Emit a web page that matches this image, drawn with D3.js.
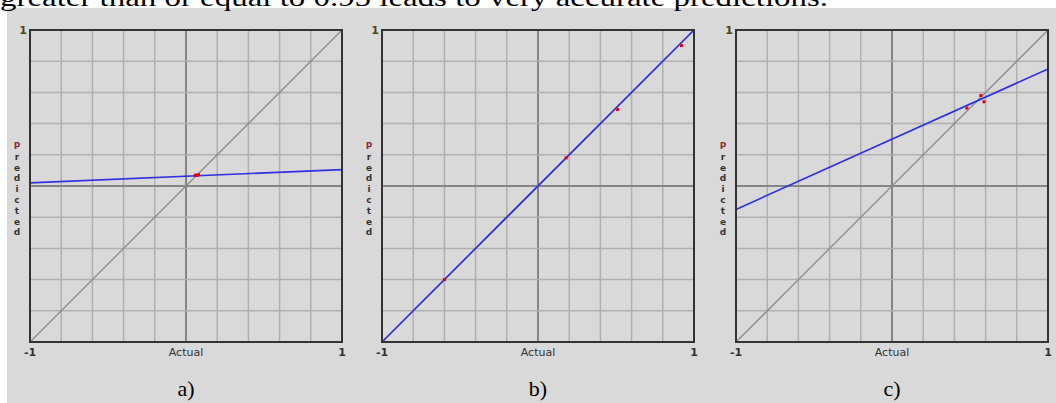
<!DOCTYPE html>
<html>
<head>
<meta charset="utf-8">
<script src="https://cdn.jsdelivr.net/npm/d3@7"></script>
<style>
  body { margin: 0; background: #fff; }
  svg { display: block; }
</style>
</head>
<body>
<svg id="chart" width="1056" height="403"></svg>
<script>
// data
var panelNames = ["a)", "b)", "c)"];
var fitA = [[-1, 0.02], [1, 0.105]];
var fitB = [[-1, -1], [1, 1]];
var fitC = [[-1, -0.15], [1, 0.75]];
var pointsA = [[0.06, 0.07], [0.08, 0.072], [0.07, 0.068]];
var pointsB = [[-0.6, -0.6], [0.18, 0.18], [0.51, 0.49], [0.92, 0.9]];
var pointsC = [[0.48, 0.5], [0.57, 0.58], [0.59, 0.54]];
var gridTicks = d3.range(-1, 1.0001, 0.2);
var caption = "greater than or equal to 0.95 leads to very accurate predictions.";

window.onload = function () {
  var fits = [fitA, fitB, fitC];
  var points = [pointsA, pointsB, pointsC];

  var svg = d3.select("#chart");

  svg.append("rect")
     .attr("x", 7).attr("y", 8)
     .attr("width", 1049).attr("height", 395)
     .attr("fill", "#d9d9d9");

  // sentence from the page above, cut off by the crop
  svg.append("text")
     .attr("x", 0).attr("y", 6)
     .attr("textLength", 828)
     .attr("lengthAdjust", "spacingAndGlyphs")
     .style("font", "25px 'Liberation Serif', serif")
     .style("fill", "#000")
     .text(caption);

  var lefts = [30, 382, 736];
  var size = 312;
  var plotTop = 30;

  panelNames.forEach(function(name, i) {
    var g = svg.append("g")
        .attr("transform", "translate(" + lefts[i] + "," + plotTop + ")");

    var x = d3.scaleLinear().domain([-1, 1]).range([0, size]);
    var y = d3.scaleLinear().domain([-1, 1]).range([size, 0]);

    var isZero = function(d) { return Math.abs(d) < 1e-6; };

    // grid
    g.selectAll(".gx").data(gridTicks).enter().append("line")
        .attr("x1", function(d) { return x(d); })
        .attr("x2", function(d) { return x(d); })
        .attr("y1", 0).attr("y2", size)
        .attr("stroke", function(d) { return isZero(d) ? "#858585" : "#b0b0b0"; })
        .attr("stroke-width", function(d) { return isZero(d) ? 2 : 1.5; });
    g.selectAll(".gy").data(gridTicks).enter().append("line")
        .attr("y1", function(d) { return y(d); })
        .attr("y2", function(d) { return y(d); })
        .attr("x1", 0).attr("x2", size)
        .attr("stroke", function(d) { return isZero(d) ? "#858585" : "#b0b0b0"; })
        .attr("stroke-width", function(d) { return isZero(d) ? 2 : 1.5; });

    // diagonal
    g.append("line")
        .attr("x1", x(-1)).attr("y1", y(-1))
        .attr("x2", x(1)).attr("y2", y(1))
        .attr("stroke", "#8c8c8c")
        .attr("stroke-width", 1.3);

    // fit line
    g.append("path")
        .datum(fits[i])
        .attr("d", d3.line().x(function(d) { return x(d[0]); }).y(function(d) { return y(d[1]); }))
        .attr("stroke", "#3030e0")
        .attr("stroke-width", 1.6)
        .attr("fill", "none");

    // points
    g.selectAll(".pt").data(points[i]).enter().append("rect")
        .attr("x", function(d) { return x(d[0]) - 1.5; })
        .attr("y", function(d) { return y(d[1]) - 1.5; })
        .attr("width", 3).attr("height", 3)
        .attr("fill", "#e00010");

    // border
    g.append("rect")
        .attr("width", size).attr("height", size)
        .attr("fill", "none")
        .attr("stroke", "#333")
        .attr("stroke-width", 2);

    var lab = "11px 'DejaVu Sans', sans-serif";
    g.append("text")
        .attr("x", -3).attr("y", 4)
        .attr("text-anchor", "end")
        .style("font", "bold " + lab).style("fill", "#4e4420")
        .text("1");
    g.append("text")
        .attr("x", 0).attr("y", size + 14)
        .attr("text-anchor", "middle")
        .style("font", "bold " + lab).style("fill", "#333")
        .text("-1");
    g.append("text")
        .attr("x", size).attr("y", size + 14)
        .attr("text-anchor", "middle")
        .style("font", "bold " + lab).style("fill", "#333")
        .text("1");
    g.append("text")
        .attr("x", size / 2).attr("y", size + 14)
        .attr("text-anchor", "middle")
        .style("font", lab).style("fill", "#333")
        .text("Actual");

    // vertical stacked label
    g.selectAll(".vl").data("Predicted".split("")).enter().append("text")
        .attr("x", -13)
        .attr("y", function(d, j) { return 119 + j * 10.8; })
        .attr("text-anchor", "middle")
        .style("font", "bold 9px 'DejaVu Sans', sans-serif")
        .style("fill", function(d, j) { return j === 0 ? "#8a3030" : "#333"; })
        .text(function(d) { return d; });

    svg.append("text")
        .attr("x", lefts[i] + size / 2).attr("y", 396)
        .attr("text-anchor", "middle")
        .style("font", "22px 'Liberation Serif', serif")
        .style("fill", "#000")
        .text(name);
  });
};
</script>
</body>
</html>
